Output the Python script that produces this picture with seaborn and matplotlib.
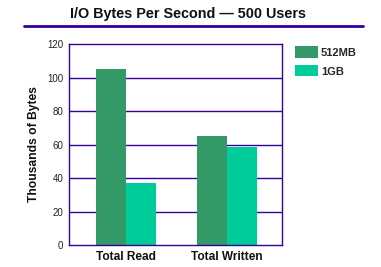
import matplotlib
matplotlib.use("Agg")
import matplotlib.pyplot as plt
import seaborn as sns
import pandas as pd
from matplotlib.lines import Line2D
from matplotlib.patches import Patch

categories = ["Total Read", "Total Written"]
series_names = ["512MB", "1GB"]
values_512mb = [105, 65]
values_1gb = [37, 58.5]
yticks = [0, 20, 40, 60, 80, 100, 120]

colors = ["#339966", "#00CC99"]
purple = "#330099"

df = pd.DataFrame({
    "category": categories * 2,
    "series": [series_names[0]] * 2 + [series_names[1]] * 2,
    "value": values_512mb + values_1gb,
})

sns.set_style("white")
plt.rcParams["font.family"] = ["Liberation Sans", "DejaVu Sans"]

fig = plt.figure(figsize=(3.81, 2.67), dpi=100)
ax = fig.add_axes([69/381, 1-245/267, 213/381, 201/267])
sns.barplot(data=df, x="category", y="value", hue="series", palette=colors,
            width=0.6, saturation=1, ax=ax, legend=False, linewidth=0)

ax.set_ylim(0, 120)
ax.set_yticks(yticks)
ax.set_yticklabels([str(t) for t in yticks], fontsize=7, color="#222222")
ax.set_xlim(-0.565, 1.545)
ax.tick_params(axis="both", length=0, pad=4)
ax.set_xticks([0, 1])
ax.set_xticklabels(categories, fontsize=8.6, fontweight="bold", color="#111111")
ax.set_xlabel("")
ax.set_ylabel("Thousands of Bytes", fontsize=8.7, fontweight="bold", color="#111111", labelpad=5)
for y in yticks[1:-1]:
    ax.axhline(y, color=purple, lw=1, zorder=0)
for s in ax.spines.values():
    s.set_color(purple)
    s.set_linewidth(1)
ax.set_axisbelow(True)

fig.text(188/381, 1-14/267, "I/O Bytes Per Second \u2014 500 Users", ha="center", va="center",
         fontsize=10.4, fontweight="bold", color="#111111")
fig.add_artist(Line2D([24/381, 363/381], [1-25.5/267, 1-25.5/267], color=purple, lw=2))

handles = [Patch(facecolor=c, edgecolor="none") for c in colors]
fig.legend(handles, series_names, loc="upper left", bbox_to_anchor=(291/381, 1-42/267),
           frameon=False, prop={"size": 8, "weight": "bold"}, handlelength=2.0, handleheight=1.2,
           handletextpad=0.3, labelspacing=0.65, borderaxespad=0)

fig.savefig("out.png", dpi=100)
